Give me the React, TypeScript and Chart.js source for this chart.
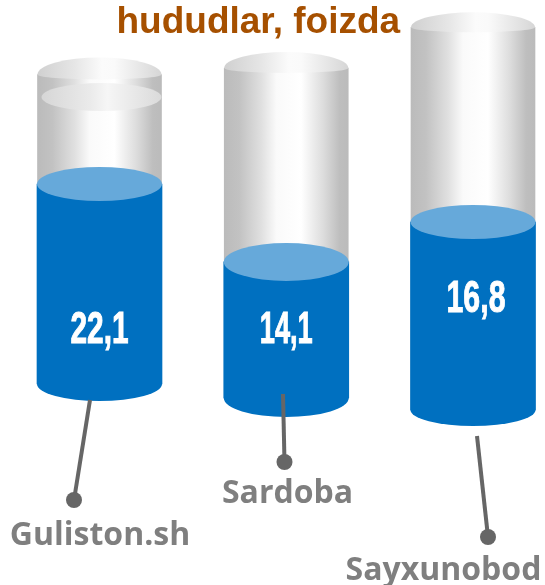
import React, { useEffect, useRef } from "react";
import { Chart, registerables } from "chart.js";

Chart.register(...registerables);

const categories = ["Guliston.sh", "Sardoba", "Sayxunobod"];
const shares = [22.1, 14.1, 16.8];
const shareLabels = ["22,1", "14,1", "16,8"];
const capacity = [34.2, 34.2, 34.2];
const titleText = "hududlar, foizda";

// Layout of the three independently placed tubes (pixels on the canvas).
const W = 545;
const H = 585;
const tubeBase = [384, 398, 410];
const pxPerUnit = [9.05, 9.65, 11.19];
const fillRy = [17, 19, 17];
const bottomRy = [17, 19, 16];
const capUp = [17, 16, 15];
const capDown = [5, 5, 5];
const labelValue = [5.9, 6.95, 9.8];
const labelDx = [0, 0, 3];
const labelWidth = [58, 53, 59];
const innerRim: (number | null)[] = [31.7, null, null];
const calloutFrom = [[90, 400], [283, 394], [477, 436]];
const calloutTo = [[74, 500], [284.5, 462], [488, 537]];
const nameX = [100, 287.5, 443.5];
const nameY = [545, 503, 580];

const BLUE = "#0070C0";
const TOP_BLUE = "#66A9DA";
const GRAY_TEXT = "#7F7F7F";
const LINE = "#666666";

function gradient(ctx: CanvasRenderingContext2D, l: number, r: number, stops: [number, string][]) {
  const g = ctx.createLinearGradient(l, 0, r, 0);
  stops.forEach(([p, c]) => g.addColorStop(p, c));
  return g;
}

const bodyStops: [number, string][] = [
  [0, "#BBBBBB"], [0.12, "#C2C2C2"], [0.3, "#E0E0E0"], [0.42, "#FAFAFA"],
  [0.62, "#FFFFFF"], [0.8, "#DCDCDC"], [0.93, "#BEBEBE"], [1, "#BBBBBB"],
];
const capStops: [number, string][] = [
  [0, "#D0D0D0"], [0.3, "#E6E6E6"], [0.52, "#FBFBFB"], [0.62, "#FAFAFA"], [1, "#D6D6D6"],
];
const rimStops: [number, string][] = [
  [0, "#D6D6D6"], [0.4, "#EAEAEA"], [0.55, "#F6F6F6"], [1, "#DADADA"],
];

const cylinderPlugin = {
  id: "cylinder",
  afterDatasetDraw(chart: any, args: any) {
    const ds = chart.data.datasets[args.index];
    const i = ds.tube as number;
    const el = args.meta.data[i];
    if (!el) return;
    const ctx: CanvasRenderingContext2D = chart.ctx;
    const { x, y, base, width } = el.getProps(["x", "y", "base", "width"], true);
    const rx = width / 2;
    ctx.save();
    if (ds.kind === "glass") {
      ctx.fillStyle = gradient(ctx, x - rx, x + rx, capStops);
      ctx.beginPath();
      ctx.ellipse(x, y, rx, capUp[i], 0, Math.PI, Math.PI * 2);
      ctx.ellipse(x, y, rx, capDown[i], 0, 0, Math.PI);
      ctx.fill();
      const rim = innerRim[i];
      if (rim !== null) {
        const ry = chart.scales[`y${i}`].getPixelForValue(rim);
        ctx.fillStyle = gradient(ctx, x - rx + 4, x + rx, rimStops);
        ctx.beginPath();
        ctx.ellipse(x + 2, ry, rx - 2, 14, 0, 0, Math.PI * 2);
        ctx.fill();
      }
    } else {
      ctx.fillStyle = BLUE;
      ctx.beginPath();
      ctx.ellipse(x, base, rx, bottomRy[i], 0, 0, Math.PI);
      ctx.fill();
      ctx.fillStyle = TOP_BLUE;
      ctx.beginPath();
      ctx.ellipse(x, y, rx, fillRy[i], 0, 0, Math.PI * 2);
      ctx.fill();

      const ly = chart.scales[`y${i}`].getPixelForValue(labelValue[i]);
      ctx.fillStyle = "#FFFFFF";
      ctx.strokeStyle = "#FFFFFF";
      ctx.lineWidth = 1;
      ctx.font = 'bold 44px "Liberation Sans Narrow", "Liberation Sans", sans-serif';
      ctx.textAlign = "center";
      ctx.textBaseline = "middle";
      ctx.fillText(shareLabels[i], x + labelDx[i], ly, labelWidth[i]);
      ctx.strokeText(shareLabels[i], x + labelDx[i], ly, labelWidth[i]);
    }
    ctx.restore();
  },
  afterDraw(chart: any) {
    const ctx: CanvasRenderingContext2D = chart.ctx;
    ctx.save();
    categories.forEach((name, i) => {
      ctx.strokeStyle = LINE;
      ctx.lineWidth = 4;
      ctx.beginPath();
      ctx.moveTo(calloutFrom[i][0], calloutFrom[i][1]);
      ctx.lineTo(calloutTo[i][0], calloutTo[i][1]);
      ctx.stroke();
      ctx.fillStyle = LINE;
      ctx.beginPath();
      ctx.arc(calloutTo[i][0], calloutTo[i][1], 8, 0, Math.PI * 2);
      ctx.fill();
      ctx.fillStyle = GRAY_TEXT;
      ctx.font = 'bold 32px "Open Sans", "Noto Sans", sans-serif';
      ctx.textAlign = "center";
      ctx.textBaseline = "alphabetic";
      ctx.fillText(name, nameX[i], nameY[i]);
    });
    ctx.fillStyle = "#A65000";
    ctx.font = 'bold 37px "Liberation Sans", Arial, sans-serif';
    ctx.textAlign = "left";
    ctx.textBaseline = "alphabetic";
    ctx.fillText(titleText, 116.5, 33);
    ctx.restore();
  },
};

export default function App() {
  const ref = useRef<HTMLCanvasElement>(null);
  useEffect(() => {
    if (!ref.current) return;
    const only = (arr: number[], i: number) => arr.map((v, j) => (j === i ? v : null));
    const glass = categories.map((_, i) => ({
      kind: "glass",
      tube: i,
      label: `${categories[i]} capacity`,
      data: only(capacity, i),
      yAxisID: `y${i}`,
      order: 2,
      grouped: false,
      clip: false,
      barThickness: 124,
      borderWidth: 0,
      backgroundColor: (c: any) => {
        const x = c.chart.scales.x.getPixelForValue(i);
        if (!Number.isFinite(x)) return "#CCCCCC";
        return gradient(c.chart.ctx, x - 62, x + 62, bodyStops);
      },
    }));
    const fill = categories.map((_, i) => ({
      kind: "fill",
      tube: i,
      label: categories[i],
      data: only(shares, i),
      yAxisID: `y${i}`,
      order: 1,
      grouped: false,
      clip: false,
      barThickness: 125,
      borderWidth: 0,
      backgroundColor: BLUE,
    }));
    const yScales: any = {};
    categories.forEach((_, i) => {
      yScales[`y${i}`] = {
        display: false,
        min: -(H - tubeBase[i]) / pxPerUnit[i],
        max: tubeBase[i] / pxPerUnit[i],
      };
    });
    const chart = new Chart(ref.current, {
      type: "bar",
      data: { labels: categories, datasets: [...glass, ...fill] as any },
      options: {
        animation: false,
        responsive: false,
        layout: { padding: { left: 99.5, right: 72, top: 0, bottom: 0 } },
        plugins: { legend: { display: false }, tooltip: { enabled: false }, title: { display: false } },
        scales: { x: { display: false, offset: false, grid: { display: false } }, ...yScales },
      } as any,
      plugins: [cylinderPlugin as any],
    });
    return () => chart.destroy();
  }, []);
  return (
    <div style={{ position: "absolute", left: 0, top: 0, width: W, height: H, background: "#fff" }}>
      <canvas ref={ref} width={W} height={H} style={{ display: "block" }} />
    </div>
  );
}
